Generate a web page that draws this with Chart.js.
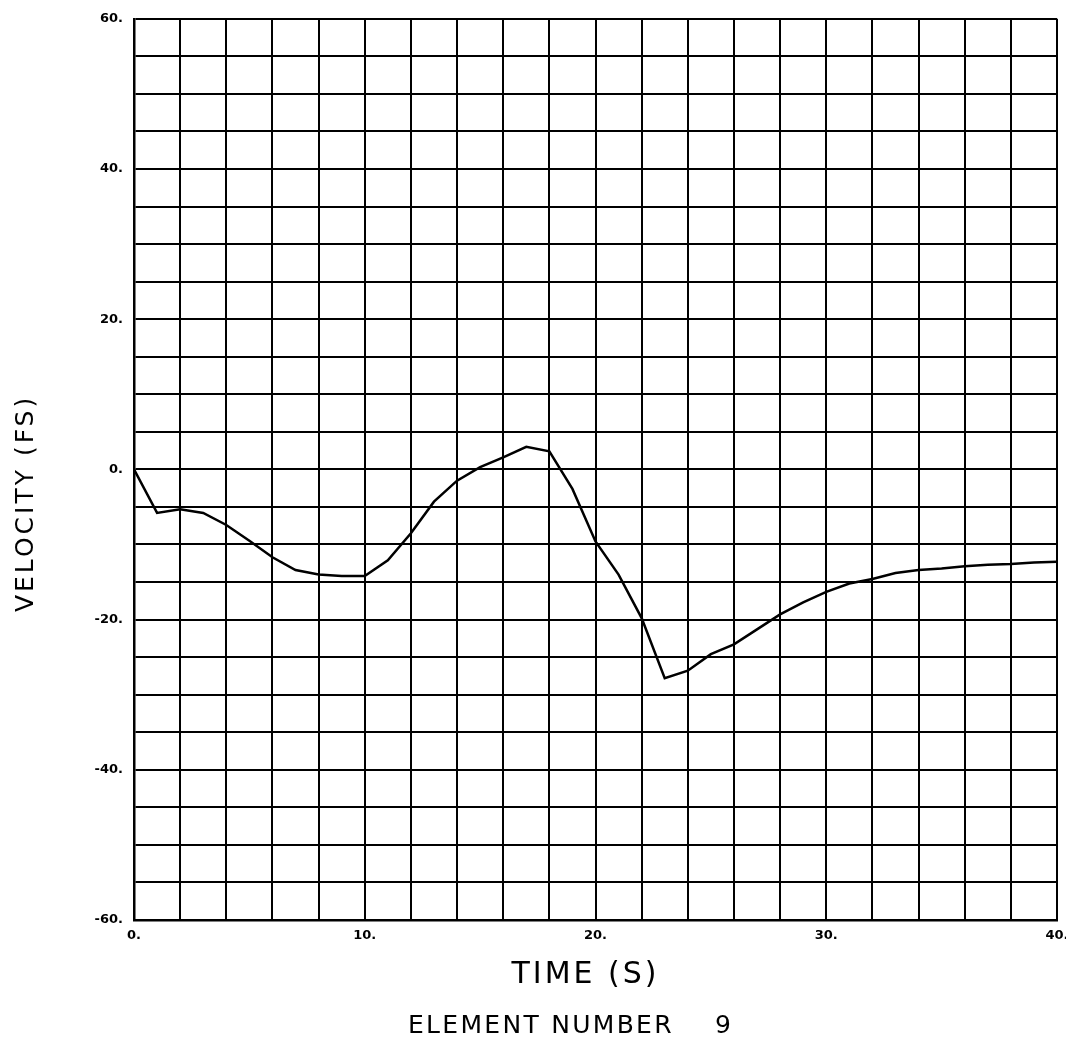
<!DOCTYPE html>
<html>
<head>
<meta charset="utf-8">
<script src="https://cdn.jsdelivr.net/npm/chart.js@4/dist/chart.umd.min.js"></script>
<style>
  html, body { margin: 0; padding: 0; background: #fff; }
  #wrap { width: 1066px; height: 1044px; position: relative; }
</style>
</head>
<body>
<div id="wrap"><canvas id="chart"></canvas></div>
<script>
// time (s) and velocity (fs), one sample per second
const times = [0, 1, 2, 3, 4, 5, 6, 7, 8, 9, 10, 11, 12, 13, 14, 15, 16, 17, 18, 19, 20,
  21, 22, 23, 24, 25, 26, 27, 28, 29, 30, 31, 32, 33, 34, 35, 36, 37, 38, 39, 40];
const velocities = [0, -5.8, -5.3, -5.8, -7.4, -9.5, -11.7, -13.4, -14.0, -14.2, -14.2,
  -12.1, -8.5, -4.3, -1.5, 0.3, 1.6, 3.0, 2.4, -2.6, -9.6,
  -14.0, -19.8, -27.8, -26.8, -24.6, -23.3, -21.3, -19.3, -17.7, -16.3,
  -15.2, -14.6, -13.8, -13.4, -13.2, -12.9, -12.7, -12.6, -12.4, -12.3];

const xLabelEvery = 10;
const yLabelEvery = 20;
const xTitle = 'TIME (S)';
const yTitle = 'VELOCITY (FS)';
const caption = 'ELEMENT NUMBER    9';

Chart.defaults.font.family = '"DejaVu Sans", sans-serif';
Chart.defaults.color = '#000';

// axis titles and caption, drawn like the plotter lettering
const plotText = {
  id: 'plotText',
  afterDraw(chart) {
    const ctx = chart.ctx;
    const area = chart.chartArea;
    ctx.save();
    ctx.fillStyle = '#000';
    ctx.textBaseline = 'alphabetic';

    ctx.font = '30px "DejaVu Sans"';
    ctx.letterSpacing = '3px';
    ctx.textAlign = 'center';
    ctx.fillText(xTitle, (area.left + area.right) / 2 - 10, area.bottom + 63);

    ctx.font = '25px "DejaVu Sans"';
    ctx.letterSpacing = '2.3px';
    ctx.textAlign = 'left';
    ctx.fillText(caption, 408, area.bottom + 113);

    ctx.translate(33, (area.top + area.bottom) / 2 + 34);
    ctx.rotate(-Math.PI / 2);
    ctx.letterSpacing = '3px';
    ctx.textAlign = 'center';
    ctx.fillText(yTitle, 0, 0);
    ctx.restore();
  }
};

const points = times.map((t, i) => ({ x: t, y: velocities[i] }));

new Chart(document.getElementById('chart'), {
  type: 'line',
  data: {
    datasets: [{
      data: points,
      borderColor: '#000',
      borderWidth: 2.5,
      pointRadius: 0,
      tension: 0,
      fill: false
    }]
  },
  options: {
    responsive: true,
    maintainAspectRatio: false,
    animation: false,
    layout: { padding: { top: 14, right: 9, left: 0, bottom: 0 } },
    plugins: {
      legend: { display: false },
      tooltip: { enabled: false }
    },
    scales: {
      x: {
        type: 'linear',
        min: 0,
        max: 40,
        afterFit: (s) => { s.height = 124; s.paddingLeft = 0; s.paddingRight = 0; },
        ticks: {
          stepSize: 2,
          autoSkip: false,
          maxRotation: 0,
          padding: 8,
          font: { size: 13, weight: 'bold' },
          callback: (v) => (v % xLabelEvery === 0 ? v + '.' : '')
        },
        grid: { color: '#000', lineWidth: 2, drawTicks: false },
        border: { color: '#000', width: 2.5 }
      },
      y: {
        min: -60,
        max: 60,
        afterFit: (s) => { s.width = 134; },
        ticks: {
          stepSize: 5,
          autoSkip: false,
          padding: 11,
          font: { size: 13, weight: 'bold' },
          callback: (v) => (v % yLabelEvery === 0 ? v + '.' : '')
        },
        grid: { color: '#000', lineWidth: 2, drawTicks: false },
        border: { color: '#000', width: 2.5 }
      }
    }
  },
  plugins: [plotText]
});
</script>
</body>
</html>
